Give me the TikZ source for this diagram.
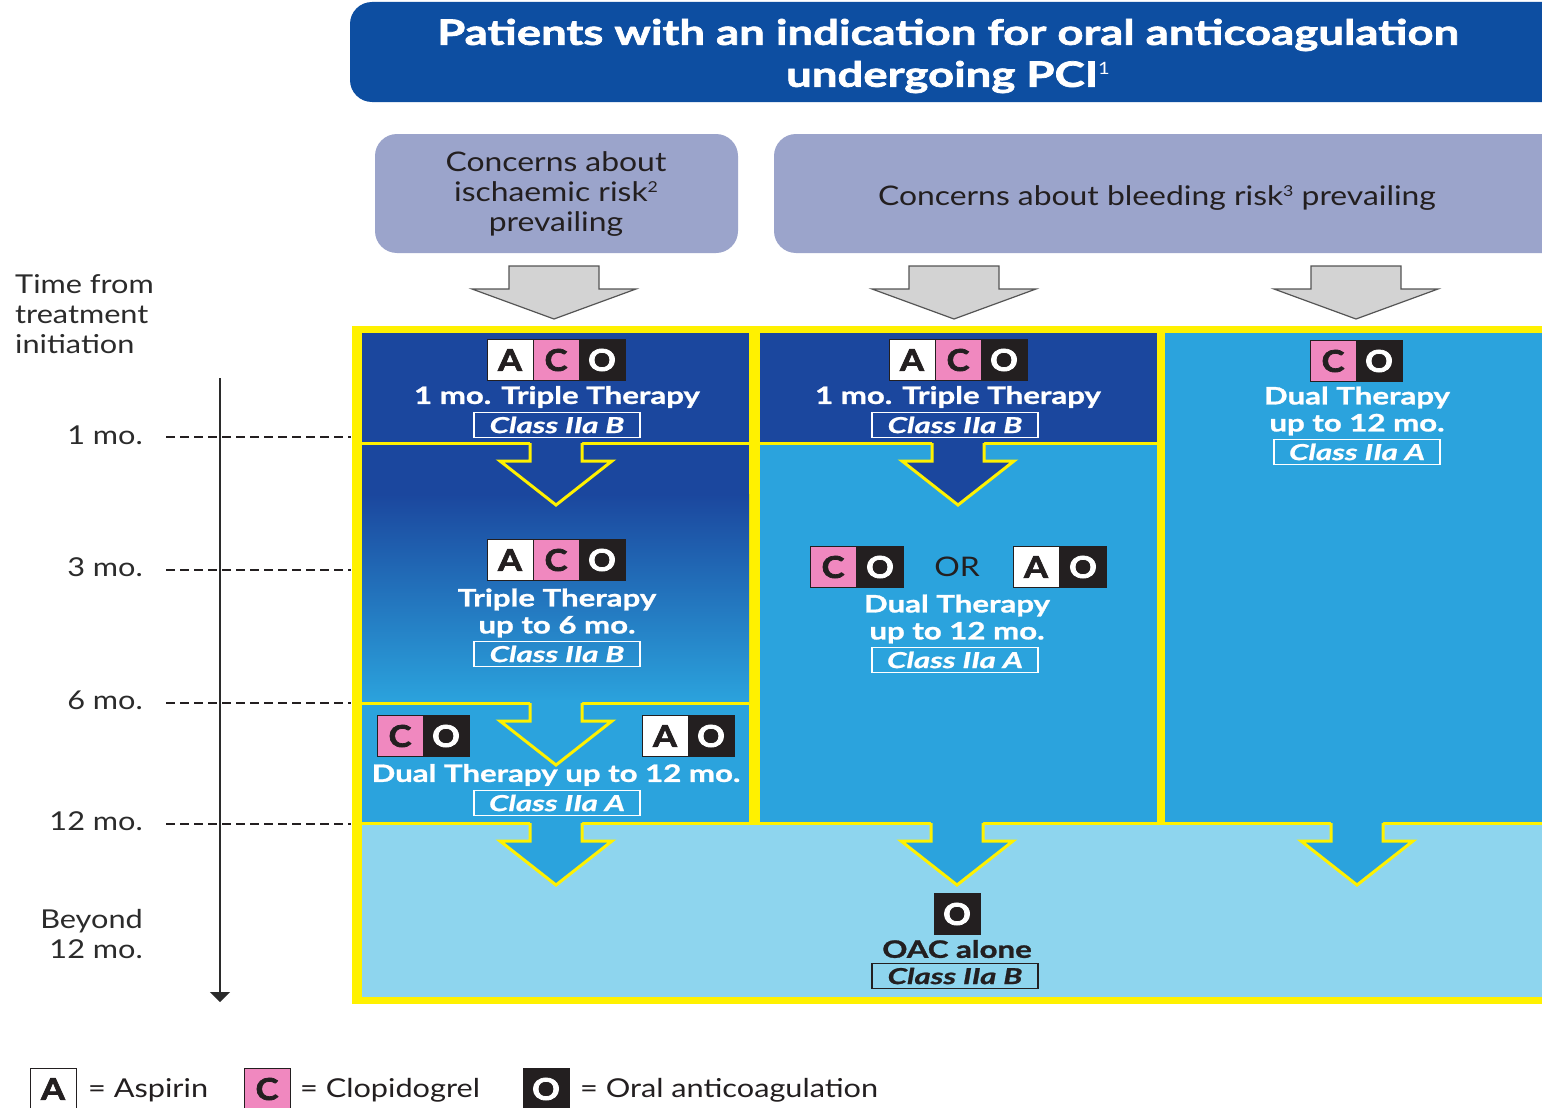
\documentclass[tikz,border=0pt]{standalone}
\usepackage{fontspec}
\setmainfont{Lato}
\newfontfamily\regw{Lato}[FakeStretch=1.18]
\newfontfamily\boldw{Lato}[FakeStretch=1.3, BoldFeatures={FakeBold=1.2}]
\newfontfamily\hdrw{Lato}[FakeStretch=1.3, BoldFeatures={FakeBold=2}]
\newfontfamily\clsw{Lato}[FakeStretch=1.42, BoldItalicFeatures={FakeBold=1}]
\newfontfamily\cellw{Lato}[FakeStretch=1.15, BoldFeatures={FakeBold=2.5}]
\newcommand\supnum[3]{\raisebox{#2}{\fontsize{#1}{#1}\selectfont\mdseries\regw #3}}
\usetikzlibrary{arrows.meta}
\definecolor{hdrblue}{HTML}{0D4EA1}
\definecolor{grybox}{HTML}{9BA4CB}
\definecolor{dkblue}{HTML}{1B479E}
\definecolor{mdblue}{HTML}{2BA3DD}
\definecolor{ltblue}{HTML}{8ED5EE}
\definecolor{yel}{HTML}{FFF100}
\definecolor{pnk}{HTML}{F088BF}
\definecolor{ink}{HTML}{231F20}
\definecolor{txtgray}{HTML}{2B2B2B}
\definecolor{arrgray}{HTML}{D3D3D3}
\definecolor{arrline}{HTML}{555555}
\tikzset{
  cell/.style={minimum width=46pt, minimum height=41pt, inner sep=0pt, draw=ink, line width=1pt, font=\cellw\fontsize{30}{30}\selectfont\bfseries},
  cellA/.style={cell, fill=white, text=ink},
  cellC/.style={cell, fill=pnk, text=ink},
  cellO/.style={cell, fill=ink, text=white},
  classbox/.style={draw=white, line width=1.5pt, minimum width=166pt, minimum height=25pt, inner sep=0pt, text=white, font=\clsw\fontsize{22}{22}\selectfont\bfseries\itshape},
  wtext/.style={text=white, align=center, inner sep=0pt, font=\boldw\fontsize{24}{27}\selectfont\bfseries},
  graytxt/.style={text=ink, align=center, inner sep=0pt, font=\regw\fontsize{27}{30}\selectfont},
  timetxt/.style={text=txtgray, inner sep=0pt, font=\regw\fontsize{26}{30}\selectfont},
  legtxt/.style={text=ink, inner sep=0pt, anchor=west, font=\regw\fontsize{26}{30}\selectfont},
  dashline/.style={dashed, dash pattern=on 9pt off 5pt, line width=2.5pt, color=ink},
  bound/.style={yel, line width=3pt},
  pics/garrow/.style={code={
    \filldraw[fill=arrgray, draw=arrline, line width=1.2pt]
      (-45,0) -- (-45,23) -- (-82,23) -- (0,53) -- (82,23) -- (45,23) -- (45,0) -- cycle;
  }},
  pics/yarrow/.style={code={
    \fill[#1] (-26,-3) -- (-26,18) -- (-56,18) -- (0,62) -- (56,18) -- (26,18) -- (26,-3) -- cycle;
    \draw[yel, line width=3pt] (-26,0) -- (-26,18) -- (-56,18) -- (0,62) -- (56,18) -- (26,18) -- (26,0);
  }},
}
\begin{document}
\begin{tikzpicture}[x=1pt, y=-1pt]
\path[use as bounding box, clip] (0,0) rectangle (1542,1108);
\fill[white] (0,0) rectangle (1542,1108);

% header
\fill[hdrblue, rounded corners=22pt] (350,2) rectangle (1600,102);
\node[text=white, align=center, inner sep=0pt, font=\hdrw\fontsize{35}{42}\selectfont\bfseries] (hdr) at (948,56)
  {Patients with an indication for oral anticoagulation\\undergoing PCI\supnum{17}{12pt}{1}};

% concern boxes
\fill[grybox, rounded corners=22pt] (375,134) rectangle (738,253);
\node[graytxt] (isch) at (556,194) {Concerns about\\ischaemic risk\supnum{15}{9pt}{2}\\prevailing};
\fill[grybox, rounded corners=22pt] (774,134) rectangle (1600,253);
\node[graytxt] (bleed) at (1157,198) {Concerns about bleeding risk\supnum{15}{9pt}{3} prevailing};

% grey arrows
\pic at (554,266) {garrow};
\pic at (954,266) {garrow};
\pic at (1356,266) {garrow};

% yellow frame and panels
\fill[yel] (352,326) rectangle (1600,1004);
\fill[dkblue] (362,333) rectangle (749,443);
\fill[dkblue] (362,443) rectangle (749,495);
\shade[top color=dkblue, bottom color=mdblue] (362,494) rectangle (749,703);
\fill[mdblue] (362,703) rectangle (749,823);
\fill[dkblue] (760,333) rectangle (1157,443);
\fill[mdblue] (760,443) rectangle (1157,823);
\fill[mdblue] (1165,333) rectangle (1600,823);
\fill[ltblue] (362,823) rectangle (1600,997);
\draw[bound] (362,443) -- (749,443);
\draw[bound] (760,443) -- (1157,443);
\draw[bound] (362,703) -- (749,703);
\draw[bound] (362,823) -- (1600,823);

% yellow arrows
\pic at (556,443) {yarrow=dkblue};
\pic at (958,443) {yarrow=dkblue};
\pic at (556,703) {yarrow=mdblue};
\pic at (556,823) {yarrow=mdblue};
\pic at (957,823) {yarrow=mdblue};
\pic at (1357,823) {yarrow=mdblue};

% column 1, row 1
\node[cellA] (a1) at (510,360) {A};
\node[cellC] (c1) at (556,360) {C};
\node[cellO] (o1) at (602,360) {O};
\node[wtext] (t1) at (557,397) {1 mo. Triple Therapy};
\node[classbox] (k1) at (557,425) {Class IIa B};

% column 2, row 1
\node[cellA] (a2) at (912,360) {A};
\node[cellC] (c2) at (958,360) {C};
\node[cellO] (o2) at (1004,360) {O};
\node[wtext] (t2) at (958,397) {1 mo. Triple Therapy};
\node[classbox] (k2) at (955,425) {Class IIa B};

% column 3
\node[cellC] (c3) at (1333,361) {C};
\node[cellO] (o3) at (1379,361) {O};
\node[wtext] (t3) at (1357,411) {Dual Therapy\\up to 12 mo.};
\node[classbox] (k3) at (1357,452) {Class IIa A};

% column 1, row 2
\node[cellA] (a4) at (510,560) {A};
\node[cellC] (c4) at (556,560) {C};
\node[cellO] (o4) at (602,560) {O};
\node[wtext] (t4) at (557,613) {Triple Therapy\\up to 6 mo.};
\node[classbox] (k4) at (557,654) {Class IIa B};

% column 1, row 3
\node[cellC] (c5) at (400,736) {C};
\node[cellO] (o5) at (446,736) {O};
\node[cellA] (a6) at (665,736) {A};
\node[cellO] (o6) at (711,736) {O};
\node[wtext] (t5) at (556,775) {Dual Therapy up to 12 mo.};
\node[classbox] (k5) at (557,803) {Class IIa A};

% column 2, row 2
\node[cellC] (c7) at (833,567) {C};
\node[cellO] (o7) at (880,567) {O};
\node[text=ink, inner sep=0pt, font=\regw\fontsize{27}{30}\selectfont] (or) at (957,567) {OR};
\node[cellA] (a8) at (1036,567) {A};
\node[cellO] (o8) at (1083,567) {O};
\node[wtext] (t7) at (957,619) {Dual Therapy\\up to 12 mo.};
\node[classbox] (k7) at (955,660) {Class IIa A};

% bottom
\node[cellO] (o9) at (957,914) {O};
\node[wtext, text=ink] (t9) at (957,949) {OAC alone};
\node[classbox, draw=ink, text=ink] (k9) at (955,976) {Class IIa B};

% timeline
\node[timetxt, align=left, anchor=west] (tft) at (15,314) {Time from\\treatment\\initiation};
\node[timetxt, anchor=east] (m1) at (143,435) {1 mo.};
\node[timetxt, anchor=east] (m3) at (143,567) {3 mo.};
\node[timetxt, anchor=east] (m6) at (143,700) {6 mo.};
\node[timetxt, anchor=east] (m12) at (143,821) {12 mo.};
\node[timetxt, anchor=east, align=right] (mb) at (143,934) {Beyond\\12 mo.};
\coordinate (axtop) at (220,378);
\coordinate (axbot) at (220,1002);
\draw[line width=1.5pt, color=txtgray, -{Triangle[width=20pt,length=10pt]}] (axtop) -- (axbot);
\foreach \yy/\nm in {437/d1, 570/d3, 703/d6, 824/d12}{
  \coordinate (\nm s) at (166,\yy);
  \coordinate (\nm e) at (351,\yy);
  \draw[dashline] (\nm s) -- (\nm e);
}

% legend
\node[cellA, minimum width=46pt, minimum height=42pt] (la) at (53,1089) {A};
\node[legtxt] (lat) at (88,1090) {= Aspirin};
\node[cellC, minimum height=42pt] (lc) at (267,1089) {C};
\node[legtxt] (lct) at (300,1090) {= Clopidogrel};
\node[cellO, minimum height=42pt] (lo) at (546,1089) {O};
\node[legtxt] (lot) at (580,1090) {= Oral anticoagulation};
\end{tikzpicture}
\end{document}
